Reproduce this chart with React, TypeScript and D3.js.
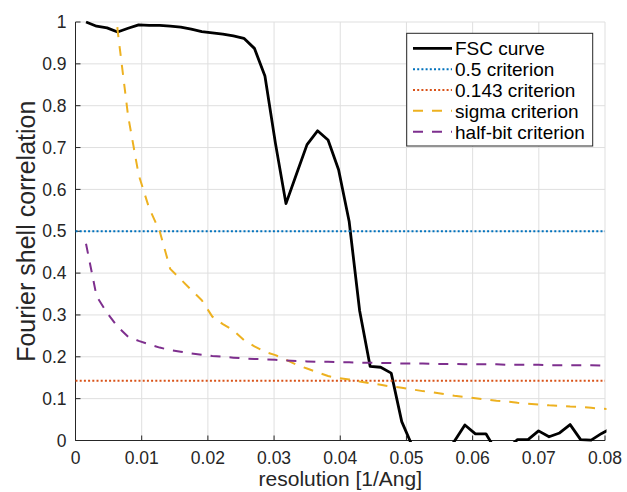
import React from 'react';
import * as d3 from 'd3';

const resolution = [0.00159, 0.00318, 0.00477, 0.00636, 0.00795, 0.00954, 0.01113, 0.01272, 0.01431, 0.0159,
  0.01749, 0.01908, 0.02067, 0.02226, 0.02385, 0.02544, 0.02703, 0.02862, 0.03021, 0.0318,
  0.03339, 0.03498, 0.03657, 0.03816, 0.03975, 0.04134, 0.04293, 0.04452, 0.04611, 0.0477,
  0.04929, 0.05088, 0.05247, 0.05406, 0.05565, 0.05724, 0.05883, 0.06042, 0.06201, 0.0636,
  0.06519, 0.06678, 0.06837, 0.06996, 0.07155, 0.07314, 0.07473, 0.07632, 0.07791, 0.0795, 0.08109];

const fscCurve = [1.0, 0.99, 0.986, 0.976, 0.985, 0.993, 0.992, 0.992, 0.99, 0.988,
  0.983, 0.977, 0.974, 0.971, 0.967, 0.961, 0.937, 0.871, 0.71, 0.566,
  0.637, 0.707, 0.74, 0.718, 0.647, 0.524, 0.31, 0.177, 0.175, 0.161,
  0.045, -0.013, -0.05, -0.04, -0.03, -0.002, 0.037, 0.016, 0.016, -0.026,
  -0.02, 0.002, 0.002, 0.023, 0.009, 0.018, 0.038, 0.002, 0.001, 0.017, 0.03];

const sigmaCriterion: (number | null)[] = [null, null, 1.35, 0.98, 0.775, 0.635, 0.555, 0.5, 0.41, 0.385,
  0.36, 0.335, 0.296, 0.278, 0.263, 0.24, 0.225, 0.212, 0.204, 0.193,
  0.181, 0.172, 0.163, 0.154, 0.149, 0.146, 0.141, 0.137, 0.133, 0.129,
  0.126, 0.122, 0.118, 0.115, 0.111, 0.107, 0.104, 0.101, 0.098, 0.095,
  0.093, 0.09, 0.088, 0.086, 0.084, 0.083, 0.081, 0.08, 0.078, 0.076, 0.075];

const halfBitCriterion = [0.47, 0.345, 0.305, 0.272, 0.248, 0.238, 0.23, 0.222, 0.216, 0.212,
  0.208, 0.205, 0.202, 0.2, 0.198, 0.196, 0.195, 0.194, 0.193, 0.191,
  0.19, 0.189, 0.188, 0.188, 0.187, 0.187, 0.186, 0.186, 0.185, 0.185,
  0.184, 0.184, 0.184, 0.183, 0.183, 0.183, 0.182, 0.182, 0.182, 0.182,
  0.181, 0.181, 0.181, 0.181, 0.18, 0.18, 0.18, 0.18, 0.18, 0.179, 0.179];

const criterion05 = 0.5;
const criterion0143 = 0.143;

const xTicks = [0, 0.01, 0.02, 0.03, 0.04, 0.05, 0.06, 0.07, 0.08];
const xTickLabels = ['0', '0.01', '0.02', '0.03', '0.04', '0.05', '0.06', '0.07', '0.08'];
const yTicks = [0, 0.1, 0.2, 0.3, 0.4, 0.5, 0.6, 0.7, 0.8, 0.9, 1];
const yTickLabels = ['0', '0.1', '0.2', '0.3', '0.4', '0.5', '0.6', '0.7', '0.8', '0.9', '1'];

const legendLabels = ['FSC curve', '0.5 criterion', '0.143 criterion', 'sigma criterion', 'half-bit criterion'];

const FONT = '"Liberation Sans", Arial, Helvetica, sans-serif';
const AX = '#262626';

export default function App() {
  const W = 627, H = 492;
  const left = 75.5, right = 605, top = 22, bottom = 440.5;
  const x = d3.scaleLinear().domain([0, 0.08]).range([left, right]);
  const y = d3.scaleLinear().domain([0, 1]).range([bottom, top]);

  const line = d3.line<[number, number | null]>()
    .defined(d => d[1] != null)
    .x(d => x(d[0]))
    .y(d => y(d[1] as number));

  const fscPath = line(resolution.map((r, i) => [r, fscCurve[i]]))!;
  const sigmaPath = line(resolution.map((r, i) => [r, sigmaCriterion[i]]))!;
  const halfPath = line(resolution.map((r, i) => [r, halfBitCriterion[i]]))!;
  const [x0, x1] = x.domain();
  const c05Path = line([[x0, criterion05], [x1, criterion05]])!;
  const c0143Path = line([[x0, criterion0143], [x1, criterion0143]])!;

  const styles = [
    { stroke: '#000000', width: 2.8, dash: undefined as string | undefined },
    { stroke: '#0072BD', width: 2, dash: '2 2.2' },
    { stroke: '#D95319', width: 2, dash: '2 2.2' },
    { stroke: '#EDB120', width: 2, dash: '10 9' },
    { stroke: '#7E2F8E', width: 2, dash: '10 9' },
  ];
  const paths = [fscPath, c05Path, c0143Path, sigmaPath, halfPath];

  const lg = { x: 406.7, y: 33.3, w: 186, h: 112.7, row0: 48.3, step: 20.85 };

  return (
    <svg width={W} height={H} style={{ position: 'absolute', left: 0, top: 0, background: '#fff' }}
      fontFamily={FONT}>
      <defs>
        <clipPath id="plotclip">
          <rect x={left - 1.5} y={top - 1.5} width={right - left + 3} height={bottom - top + 3} />
        </clipPath>
      </defs>
      <rect x={0} y={0} width={W} height={H} fill="#fff" />
      {/* grid */}
      <g stroke="#dfdfdf" strokeWidth={1}>
        {xTicks.map((t, i) => (
          <line key={'gx' + i} x1={x(t)} x2={x(t)} y1={top} y2={bottom} />
        ))}
        {yTicks.map((t, i) => (
          <line key={'gy' + i} x1={left} x2={right} y1={y(t)} y2={y(t)} />
        ))}
      </g>
      {/* axes */}
      <g stroke={AX} strokeWidth={1}>
        <line x1={left} x2={left} y1={top} y2={bottom} />
        <line x1={left} x2={right} y1={bottom} y2={bottom} />
        {xTicks.map((t, i) => (
          <line key={'tx' + i} x1={x(t)} x2={x(t)} y1={bottom} y2={bottom - 5} />
        ))}
        {yTicks.map((t, i) => (
          <line key={'ty' + i} x1={left} x2={left + 5} y1={y(t)} y2={y(t)} />
        ))}
      </g>
      <g fill={AX} fontSize={17.5}>
        {xTicks.map((t, i) => (
          <text key={'lx' + i} x={x(t)} y={463.5} textAnchor="middle">{xTickLabels[i]}</text>
        ))}
        {yTicks.map((t, i) => (
          <text key={'ly' + i} x={66.5} y={y(t)} dy="0.35em" textAnchor="end">{yTickLabels[i]}</text>
        ))}
      </g>
      <text x={(left + right) / 2} y={486} textAnchor="middle" fontSize={21} fill={AX}>resolution [1/Ang]</text>
      <text transform={`translate(35,${(top + bottom) / 2}) rotate(-90)`} textAnchor="middle" fontSize={25} fill={AX}>Fourier shell correlation</text>
      {/* data */}
      <g clipPath="url(#plotclip)" fill="none">
        {paths.map((p, i) => (
          <path key={'p' + i} d={p} stroke={styles[i].stroke} strokeWidth={styles[i].width}
            strokeDasharray={styles[i].dash} strokeLinejoin="round" />
        ))}
      </g>
      {/* legend */}
      <rect x={lg.x} y={lg.y} width={lg.w} height={lg.h} fill="#fff" stroke={AX} strokeWidth={1} />
      {legendLabels.map((l, i) => {
        const yy = lg.row0 + i * lg.step;
        return (
          <g key={'lg' + i}>
            <line x1={413} x2={452} y1={yy} y2={yy} stroke={styles[i].stroke} strokeWidth={styles[i].width}
              strokeDasharray={styles[i].dash} />
            <text x={455} y={yy} dy="0.36em" fontSize={19} fill="#000">{l}</text>
          </g>
        );
      })}
    </svg>
  );
}
